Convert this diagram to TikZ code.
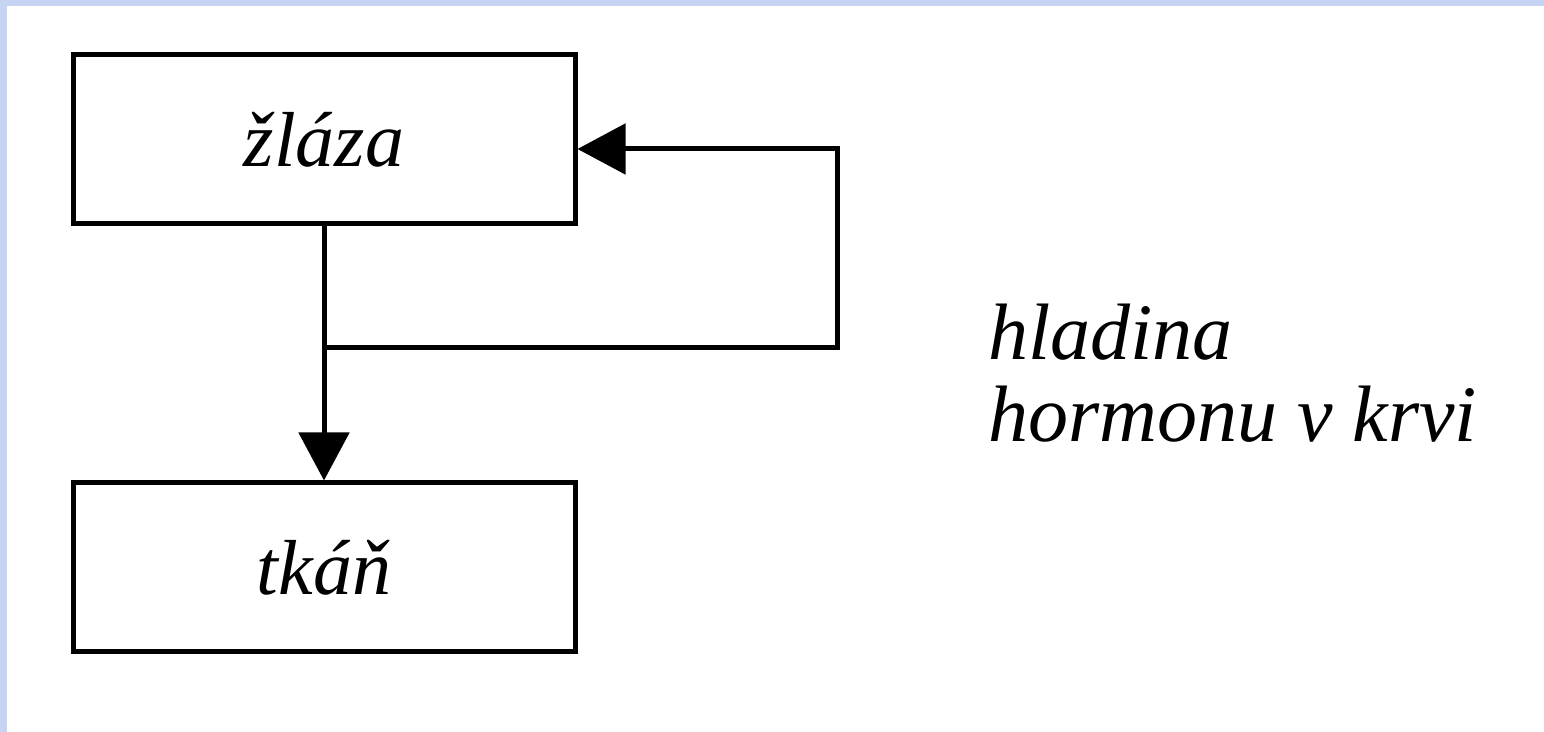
\documentclass[tikz,border=0pt]{standalone}
\usepackage{fontspec}
\setmainfont{Liberation Serif}
\usetikzlibrary{
  arrows.meta,
  positioning
}
\tikzset{
  organ/.style={draw,line width=2.5pt,minimum width=251pt,minimum height=84.5pt,
    inner sep=0pt,font=\fontsize{39}{41}\selectfont\itshape},
  link/.style={draw,line width=2.5pt},
  tip/.style={-{Triangle[length=24pt,width=25pt]}},
}
\definecolor{scan}{RGB}{196,212,242}

\begin{document}
\begin{tikzpicture}[x=0.5pt,y=-0.5pt]
\fill[scan] (0,0) rectangle (1544,732);
\fill[white] (7,6) rectangle (1544,732);
\node[organ] (zlaza) at (324,139.5) {žláza};
\node[organ] (tkan) at (324,567.5) {tkáň};
\node[anchor=base west,align=left,inner sep=0pt,
  font=\fontsize{40}{41}\selectfont\itshape] (level) at (988,442) {hladina\\hormonu v krvi};
\coordinate (split) at (324,348);
\coordinate (turn) at (837,348);
\coordinate (back) at (837,149);
\draw[link,tip] (zlaza) -- (tkan);
\draw[link,tip] (split) -- (turn) -- (back) -- (zlaza.east |- back);
\end{tikzpicture}
\end{document}
